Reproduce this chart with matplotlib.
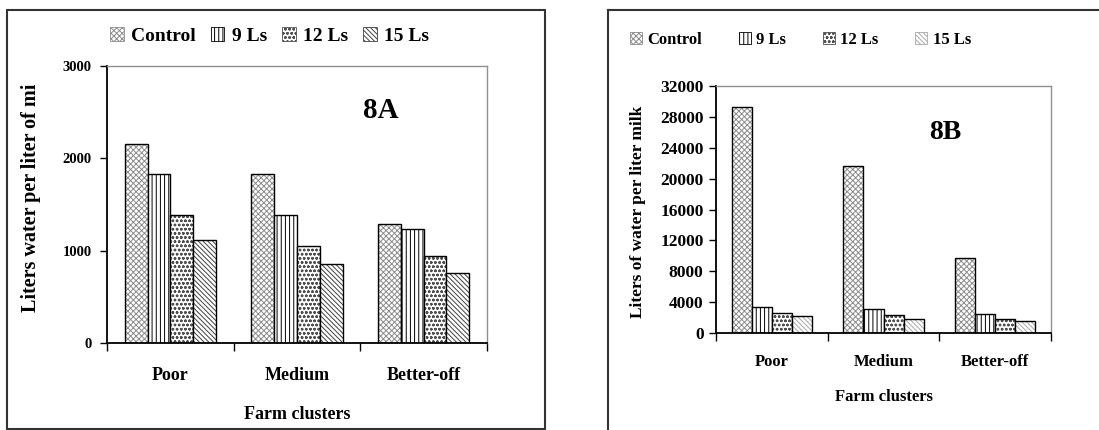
import matplotlib
matplotlib.use("Agg")
import matplotlib.pyplot as plt
import matplotlib.patches as patches
from matplotlib.lines import Line2D
import numpy as np

plt.rcParams["font.family"] = ["Liberation Serif", "DejaVu Serif"]
plt.rcParams["font.weight"] = "bold"
plt.rcParams["axes.labelweight"] = "bold"
plt.rcParams["hatch.linewidth"] = 0.7

W, H = 1099, 430

clusters = ["Poor", "Medium", "Better-off"]
series = ["Control", "9 Ls", "12 Ls", "15 Ls"]

# 8A: liters water per liter of milk
water_a = {
    "Control": [2150, 1830, 1290],
    "9 Ls": [1830, 1385, 1240],
    "12 Ls": [1385, 1050, 945],
    "15 Ls": [1120, 855, 760],
}
# 8B: liters of water per liter milk
water_b = {
    "Control": [29300, 21700, 9750],
    "9 Ls": [3370, 3110, 2470],
    "12 Ls": [2630, 2330, 1780],
    "15 Ls": [2160, 1860, 1520],
}

# (hatch, hatch colour)
STYLE_A = {
    "Control": ("xxxxxx", "#8c8c8c"),
    "9 Ls": ("||||", "black"),
    "12 Ls": ("oooo", "#505050"),
    "15 Ls": ("\\\\\\\\\\\\\\", "#404040"),
}
STYLE_B = dict(STYLE_A)
STYLE_B["15 Ls"] = ("\\\\\\\\\\\\\\", "#a8a8a8")


def px_axes(fig, left, top, right, bottom):
    return fig.add_axes([left / W, (H - bottom) / H, (right - left) / W, (bottom - top) / H])


def draw_bars(ax, data, styles):
    x = np.arange(len(clusters))
    width = 0.18
    for k, name in enumerate(series):
        pos = x + (k - 1.5) * width
        hatch, hcol = styles[name]
        ax.bar(pos, data[name], width, color="white", edgecolor=hcol, hatch=hatch, linewidth=0)
        ax.bar(pos, data[name], width, fill=False, edgecolor="black", linewidth=1.0)
    ax.set_xlim(-0.5, len(clusters) - 0.5)
    ax.set_xticks(x)
    ax.set_xticks(np.arange(len(clusters) + 1) - 0.5, minor=True)
    ax.tick_params(axis="x", which="major", length=0)
    ax.tick_params(axis="x", which="minor", length=6, width=1, direction="out")
    ax.tick_params(axis="y", length=5, width=1, direction="out")
    for s in ["left", "bottom"]:
        ax.spines[s].set_color("black")
        ax.spines[s].set_linewidth(1.3)
    for s in ["top", "right"]:
        ax.spines[s].set_color("#909090")
        ax.spines[s].set_linewidth(1.0)


def legend_handles(styles):
    hs = []
    for name in series:
        hatch, hcol = styles[name]
        hs.append(patches.Patch(facecolor="white", edgecolor=hcol, hatch=hatch, linewidth=0.6))
    return hs


fig = plt.figure(figsize=(W / 100, H / 100), dpi=100)

# outer frames
fig.add_artist(patches.Rectangle((7 / W, (H - 429) / H), 538 / W, 419 / H,
                                 transform=fig.transFigure, fill=False,
                                 edgecolor="#333333", linewidth=1.5))
fig.add_artist(Line2D([608 / W, 608 / W], [0, (H - 10) / H], transform=fig.transFigure,
                      color="#333333", linewidth=1.5))
fig.add_artist(Line2D([608 / W, 1], [(H - 10) / H, (H - 10) / H], transform=fig.transFigure,
                      color="#333333", linewidth=1.5))

# ---- 8A ----
ax = px_axes(fig, 107, 66, 487, 343)
draw_bars(ax, water_a, STYLE_A)
ax.set_ylim(0, 3000)
ax.set_yticks([0, 1000, 2000, 3000])
ax.tick_params(axis="y", labelsize=10.5, pad=6)
ax.set_xticklabels(clusters, fontsize=13)
ax.tick_params(axis="x", which="major", pad=17)
ax.set_xlabel("Farm clusters", fontsize=13, labelpad=16)
ax.set_ylabel("Liters water per liter of mi", fontsize=14.5)
ax.yaxis.set_label_coords(-0.174, 0.523)
ax.text(0.72, 0.84, "8A", transform=ax.transAxes, fontsize=21, ha="center", va="center")
ax.legend(legend_handles(STYLE_A), series, ncol=4, loc="center left",
          bbox_to_anchor=(110 / W, (H - 36) / H), bbox_transform=fig.transFigure,
          frameon=False, fontsize=14, handlelength=0.7, handleheight=0.7,
          handletextpad=0.4, columnspacing=0.75, borderaxespad=0, borderpad=0)

# ---- 8B ----
ax = px_axes(fig, 716, 86, 1051, 333)
draw_bars(ax, water_b, STYLE_B)
ax.set_ylim(0, 32000)
ax.set_yticks(np.arange(0, 32001, 4000))
ax.tick_params(axis="y", labelsize=12.5, pad=4)
ax.set_xticklabels(clusters, fontsize=12)
ax.tick_params(axis="x", which="major", pad=15)
ax.set_xlabel("Farm clusters", fontsize=12, labelpad=14)
ax.set_ylabel("Liters of water per liter milk", fontsize=12.5)
ax.yaxis.set_label_coords(-0.209, 0.49)
ax.text(0.685, 0.81, "8B", transform=ax.transAxes, fontsize=20, ha="center", va="center")
ax.legend(legend_handles(STYLE_B), series, ncol=4, loc="center left",
          bbox_to_anchor=(630 / W, (H - 40) / H), bbox_transform=fig.transFigure,
          frameon=False, fontsize=12, handlelength=0.7, handleheight=0.7,
          handletextpad=0.35, columnspacing=2.2, borderaxespad=0, borderpad=0)

fig.savefig("out.png", dpi=100)
